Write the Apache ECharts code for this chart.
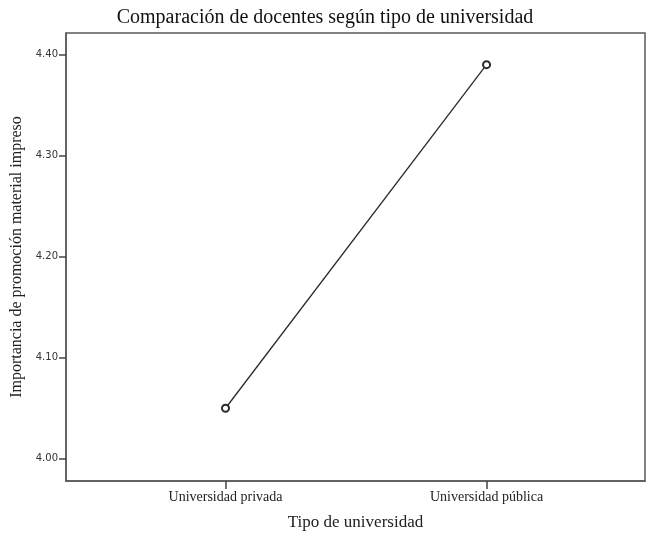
<!DOCTYPE html>
<html>
<head>
<meta charset="utf-8">
<script src="https://cdn.jsdelivr.net/npm/echarts@6/dist/echarts.min.js"></script>
<style>html,body{margin:0;padding:0;background:#fff}#c{width:650px;height:535px}</style>
</head>
<body>
<div id="c"></div>
<script>
var categories = ['Universidad privada', 'Universidad pública'];
var values = [4.05, 4.39];
var yTicks = [4.00, 4.10, 4.20, 4.30, 4.40];

var chart = echarts.init(document.getElementById('c'), null, {renderer: 'canvas'});
var serif = '"Liberation Serif", "Times New Roman", serif';
var sans = '"DejaVu Sans", sans-serif';
var points = values.map(function (v, i) { return [i, v]; });
chart.setOption({
  animation: false,
  backgroundColor: '#fff',
  title: {
    text: 'Comparación de docentes según tipo de universidad',
    left: 'center', top: 3,
    textStyle: {fontFamily: serif, fontWeight: 'normal', fontSize: 20, color: '#111'}
  },
  grid: {left: 66, right: 5, top: 33, bottom: 54, outerBoundsMode: 'none', containLabel: false,
    show: true, borderColor: '#5a5a5a', borderWidth: 1.5, backgroundColor: '#fff'},
  xAxis: {
    type: 'value', min: -0.611, max: 1.607,
    name: 'Tipo de universidad', nameLocation: 'middle', nameGap: 33,
    nameTextStyle: {fontFamily: serif, fontSize: 17, color: '#222'},
    axisLine: {show: true, onZero: false, lineStyle: {color: '#5a5a5a', width: 1.5}},
    axisTick: {show: true, length: 8, customValues: [0, 1], lineStyle: {color: '#444', width: 1.5}},
    axisLabel: {customValues: [0, 1], margin: 9, fontFamily: serif, fontSize: 14, color: '#222',
      formatter: function (v) { return categories[Math.round(v)]; }},
    splitLine: {show: false}
  },
  yAxis: {
    type: 'value', min: 3.978, max: 4.4213,
    name: 'Importancia de promoción material impreso', nameLocation: 'middle', nameGap: 41,
    nameTextStyle: {fontFamily: serif, fontSize: 16, color: '#222'},
    axisLine: {show: true, onZero: false, lineStyle: {color: '#5a5a5a', width: 1.5}},
    axisTick: {show: true, length: 7, customValues: yTicks, lineStyle: {color: '#444', width: 1.5}},
    axisLabel: {customValues: yTicks, margin: 8, fontFamily: sans, fontSize: 10, color: '#333',
      formatter: function (v) { return v.toFixed(2); }},
    splitLine: {show: false}
  },
  series: [{
    type: 'line', data: points,
    symbol: 'emptyCircle', symbolSize: 7,
    lineStyle: {color: '#2a2a2a', width: 1.3},
    itemStyle: {color: '#2a2a2a', borderColor: '#2a2a2a', borderWidth: 1.3}
  }]
});
</script>
</body>
</html>
